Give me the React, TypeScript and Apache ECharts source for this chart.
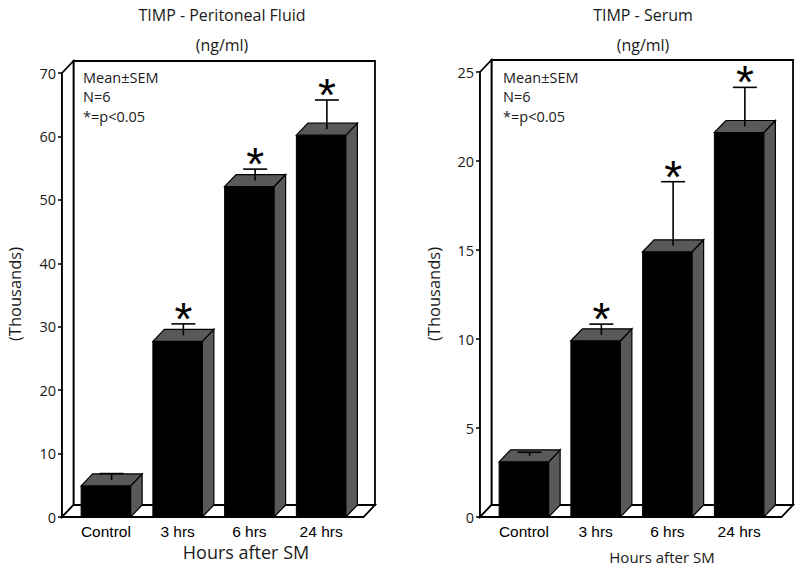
import React, { useEffect, useRef } from "react";
import * as echarts from "echarts";

const categories = ["Control", "3 hrs", "6 hrs", "24 hrs"];
const pfMean = [4.9, 27.7, 52.1, 60.2];
const pfSem = [1.0, 1.8, 1.8, 4.6];
const serumMean = [3.1, 9.9, 14.9, 21.6];
const serumSem = [0.2, 0.6, 3.6, 2.2];
const significant = [0, 1, 1, 1];
const pfAxis = { max: 70, interval: 10 };
const serumAxis = { max: 25, interval: 5 };
const titles = ["TIMP - Peritoneal Fluid", "TIMP - Serum"];
const unitLabel = "(ng/ml)";
const yName = "(Thousands)";
const xName = "Hours after SM";
const notes = ["Mean±SEM", "N=6", "*=p<0.05"];

const DX = 11.5;
const DY = 12;
const TEXT = "#1a1a1a";
const UI_FONT = '"Open Sans", "Noto Sans", sans-serif';

function frameRender(params: any, api: any) {
  const cs = params.coordSys;
  const L = cs.x - 8;
  const R = cs.x + cs.width + 6.5;
  const T = cs.y;
  const B = cs.y + cs.height;
  const st = { fill: "#fff", stroke: "#000", lineWidth: 1.8, lineJoin: "miter" };
  return {
    type: "group",
    children: [
      { type: "polygon", shape: { points: [[L + DX, T - DY], [R + DX, T - DY], [R + DX, B - DY], [L + DX, B - DY]] }, style: st },
      { type: "polygon", shape: { points: [[L, B], [L, T], [L + DX, T - DY], [L + DX, B - DY]] }, style: st },
      { type: "polygon", shape: { points: [[L, B], [L + DX, B - DY], [R + DX, B - DY], [R, B]] }, style: st },
    ],
  };
}

function barRender(params: any, api: any) {
  const idx = api.value(0);
  const mean = api.value(1);
  const sem = api.value(2);
  const sig = api.value(3);
  const base = api.coord([idx, 0]);
  const top = api.coord([idx, mean]);
  const errTop = api.coord([idx, mean + sem]);
  const bw = api.size([1, 0])[0];
  const w = bw * 0.69;
  const cx = top[0];
  const xl = cx - w / 2;
  const xr = cx + w / 2;
  const t = top[1];
  const b = base[1];
  const ex = cx + DX / 2;
  const ey0 = t - DY / 2;
  const ey1 = errTop[1] - DY / 2;
  const children: any[] = [
    { type: "rect", shape: { x: xl, y: t, width: w, height: b - t }, style: { fill: "#000", stroke: "#000", lineWidth: 1 } },
    { type: "polygon", shape: { points: [[xr, t], [xr + DX, t - DY], [xr + DX, b - DY], [xr, b]] }, style: { fill: "#595959", stroke: "#000", lineWidth: 1.2 } },
    { type: "polygon", shape: { points: [[xl, t], [xl + DX, t - DY], [xr + DX, t - DY], [xr, t]] }, style: { fill: "#595959", stroke: "#000", lineWidth: 1.2 } },
    { type: "line", shape: { x1: ex, y1: ey0, x2: ex, y2: ey1 }, style: { stroke: "#000", lineWidth: 1.6 } },
    { type: "line", shape: { x1: ex - 12, y1: ey1, x2: ex + 12, y2: ey1 }, style: { stroke: "#000", lineWidth: 1.6 } },
  ];
  if (sig) {
    children.push({
      type: "text",
      style: {
        text: "*",
        x: ex,
        y: ey1 - 5,
        fontSize: 46,
        fontFamily: '"Liberation Sans", Arial, sans-serif',
        fill: "#000",
        align: "center",
        verticalAlign: "middle",
      },
    });
  }
  return { type: "group", children };
}

function makeData(means: number[], sems: number[]) {
  return means.map((m, i) => [i, m, sems[i], significant[i]]);
}

export default function App() {
  const ref = useRef<HTMLDivElement>(null);
  useEffect(() => {
    if (!ref.current) return;
    const chart = echarts.init(ref.current, undefined, { renderer: "svg" });
    const grids = [
      { left: 70, top: 73, width: 287, height: 444 },
      { left: 488, top: 72, width: 287, height: 445 },
    ];
    const axes = [pfAxis, serumAxis];
    const xAxis = grids.map((_, i) => ({
      type: "category",
      gridIndex: i,
      data: categories,
      boundaryGap: true,
      axisLine: { show: false },
      axisTick: { show: false },
      axisLabel: { color: "#000", fontSize: 15.5, fontFamily: '"Liberation Sans", Arial, sans-serif', margin: 6 },
    }));
    const yAxis = grids.map((_, i) => ({
      type: "value",
      gridIndex: i,
      min: 0,
      max: axes[i].max,
      interval: axes[i].interval,
      offset: 8,
      axisLine: { show: true, lineStyle: { color: "#000", width: 1.8 } },
      axisTick: { show: true, length: 4, lineStyle: { color: "#000", width: 1.5 } },
      splitLine: { show: false },
      axisLabel: { color: TEXT, fontSize: 14.5, fontFamily: UI_FONT, margin: 6 },
    }));
    const titleX = [222, 643];
    const notesX = [83, 503];
    const yNameX = [14, 433];
    const xNamePos = [
      { x: 246, y: 552, size: 18 },
      { x: 662, y: 557, size: 15 },
    ];
    const graphic: any[] = [];
    [0, 1].forEach((i) => {
      graphic.push({ type: "text", z: 100, style: { text: titles[i], x: titleX[i], y: 15, fontSize: 16, fontFamily: UI_FONT, fill: TEXT, align: "center", verticalAlign: "middle" } });
      graphic.push({ type: "text", z: 100, style: { text: unitLabel, x: titleX[i], y: 45, fontSize: 16, fontFamily: UI_FONT, fill: TEXT, align: "center", verticalAlign: "middle" } });
      notes.forEach((n, k) => {
        graphic.push({ type: "text", z: 100, style: { text: n, x: notesX[i], y: 77 + k * 19.5, fontSize: 14.5, fontFamily: UI_FONT, fill: TEXT, align: "left", verticalAlign: "middle" } });
      });
      graphic.push({ type: "text", z: 100, x: yNameX[i], y: 294, rotation: Math.PI / 2, style: { text: yName, x: 0, y: 0, fontSize: 16.5, fontFamily: UI_FONT, fill: TEXT, align: "center", verticalAlign: "middle" } });
      graphic.push({ type: "text", z: 100, style: { text: xName, x: xNamePos[i].x, y: xNamePos[i].y, fontSize: xNamePos[i].size, fontFamily: UI_FONT, fill: TEXT, align: "center", verticalAlign: "middle" } });
    });
    const series: any[] = [];
    [0, 1].forEach((i) => {
      series.push({ type: "custom", name: "frame" + i, xAxisIndex: i, yAxisIndex: i, renderItem: frameRender, data: [[0, 0]], clip: false, z: 1, silent: true });
    });
    series.push({ type: "custom", name: "Peritoneal Fluid", xAxisIndex: 0, yAxisIndex: 0, renderItem: barRender, data: makeData(pfMean, pfSem), clip: false, z: 3, encode: { x: 0, y: 1 } });
    series.push({ type: "custom", name: "Serum", xAxisIndex: 1, yAxisIndex: 1, renderItem: barRender, data: makeData(serumMean, serumSem), clip: false, z: 3, encode: { x: 0, y: 1 } });
    chart.setOption({
      animation: false,
      backgroundColor: "#fff",
      grid: grids,
      xAxis,
      yAxis,
      series,
      graphic,
    });
    return () => chart.dispose();
  }, []);
  return <div ref={ref} style={{ position: "absolute", left: 0, top: 0, width: 800, height: 572 }} />;
}
